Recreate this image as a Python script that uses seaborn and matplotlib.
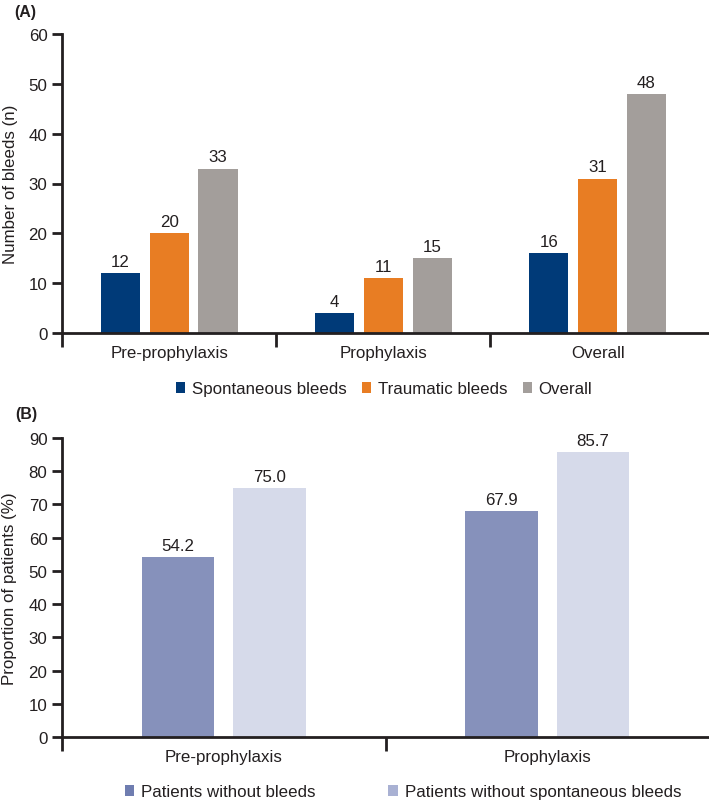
import matplotlib
matplotlib.use("Agg")
import matplotlib.pyplot as plt
import seaborn as sns
import pandas as pd
from matplotlib.patches import Patch

sns.set_theme(style="white")
plt.rcParams['font.family'] = ['Liberation Sans', 'DejaVu Sans']

# Panel A data
cats_a = ["Pre-prophylaxis", "Prophylaxis", "Overall"]
series_a = ["Spontaneous bleeds", "Traumatic bleeds", "Overall"]
spontaneous = [12, 4, 16]
traumatic = [20, 11, 31]
overall = [33, 15, 48]
colors_a = ["#003A78", "#E87D23", "#A39E9B"]
yticks_a = [0, 10, 20, 30, 40, 50, 60]

# Panel B data
cats_b = ["Pre-prophylaxis", "Prophylaxis"]
series_b = ["Patients without bleeds", "Patients without spontaneous bleeds"]
without_bleeds = [54.2, 67.9]
without_spont = [75.0, 85.7]
colors_b = ["#8691BB", "#D6DAEA"]
yticks_b = [0, 10, 20, 30, 40, 50, 60, 70, 80, 90]

df_a = pd.DataFrame({
    "cat": cats_a * 3,
    "series": [series_a[0]] * 3 + [series_a[1]] * 3 + [series_a[2]] * 3,
    "val": spontaneous + traumatic + overall,
})
df_b = pd.DataFrame({
    "cat": cats_b * 2,
    "series": [series_b[0]] * 2 + [series_b[1]] * 2,
    "val": without_bleeds + without_spont,
})

W, H = 709, 803
fig = plt.figure(figsize=(W / 100, H / 100), dpi=100)
ax_a = fig.add_axes([62 / W, 1 - 334 / H, (709 - 62) / W, (334 - 35) / H])
ax_b = fig.add_axes([62 / W, 1 - 738 / H, (709 - 62) / W, (738 - 439) / H])

text_c = "#231F20"
FS = 12.2


def style_axis(ax, ncat, xmax, yticks, ylabel, label_x):
    for s in ["top", "right"]:
        ax.spines[s].set_visible(False)
    for s in ["left", "bottom"]:
        ax.spines[s].set_linewidth(2)
        ax.spines[s].set_color(text_c)
    ax.set_xlim(-0.5, xmax)
    ax.set_ylim(yticks[0], yticks[-1])
    ax.set_yticks(yticks)
    ax.set_yticklabels([str(t) for t in yticks], fontsize=FS, color=text_c)
    ax.tick_params(axis="y", direction="out", length=7, width=2, color=text_c, pad=3.5, left=True)
    ax.set_xticks([i - 0.5 for i in range(ncat)])
    ax.set_xticklabels([])
    ax.tick_params(axis="x", which="major", direction="out", length=10, width=2, color=text_c, bottom=True)
    ax.set_xticks(list(range(ncat)), minor=True)
    ax.tick_params(axis="x", which="minor", length=0, pad=9, labelsize=FS, labelcolor=text_c)
    ax.set_xlabel("")
    ax.set_ylabel(ylabel, fontsize=FS, color=text_c, va="center")
    ax.yaxis.set_label_coords(label_x, 0.5)
    ax.set_facecolor("none")


sns.barplot(data=df_a, x="cat", y="val", hue="series", order=cats_a, hue_order=series_a,
            palette=colors_a, width=0.684, gap=0.2, linewidth=0, legend=False, ax=ax_a,
            saturation=1)
style_axis(ax_a, 3, 2.52, yticks_a, "Number of bleeds (n)", -0.080)
ax_a.set_xticklabels(cats_a, minor=True)
for c in ax_a.containers:
    ax_a.bar_label(c, labels=[f"{v:.0f}" for v in c.datavalues], padding=3, fontsize=FS, color=text_c)

sns.barplot(data=df_b, x="cat", y="val", hue="series", order=cats_b, hue_order=series_b,
            palette=colors_b, width=0.565, gap=0.21, linewidth=0, legend=False, ax=ax_b,
            saturation=1)
style_axis(ax_b, 2, 1.5, yticks_b, "Proportion of patients (%)", -0.081)
ax_b.set_xticklabels(cats_b, minor=True)
for c in ax_b.containers:
    ax_b.bar_label(c, labels=[f"{v:.1f}" for v in c.datavalues], padding=3, fontsize=FS, color=text_c)

handles_a = [Patch(facecolor=c, edgecolor="none") for c in colors_a]
fig.legend(handles_a, series_a, loc="center", bbox_to_anchor=(384 / W, 1 - 390 / H), ncol=3,
           frameon=False, fontsize=FS, handlelength=0.55, handleheight=0.55, handletextpad=0.4,
           columnspacing=0.9, labelcolor=text_c)

handles_b = [Patch(facecolor=c, edgecolor="none") for c in ["#6F7DB0", "#A9B1D3"]]
fig.legend(handles_b, series_b, loc="center", bbox_to_anchor=(403 / W, 1 - 793 / H), ncol=2,
           frameon=False, fontsize=FS, handlelength=0.55, handleheight=0.55, handletextpad=0.4,
           columnspacing=4.3, labelcolor=text_c)

fig.text(14 / W, 1 - 12 / H, "(A)", fontsize=11.5, fontweight="bold", va="center", ha="left", color=text_c)
fig.text(15 / W, 1 - 415 / H, "(B)", fontsize=11.5, fontweight="bold", va="center", ha="left", color=text_c)

fig.savefig("out.png", dpi=100)
